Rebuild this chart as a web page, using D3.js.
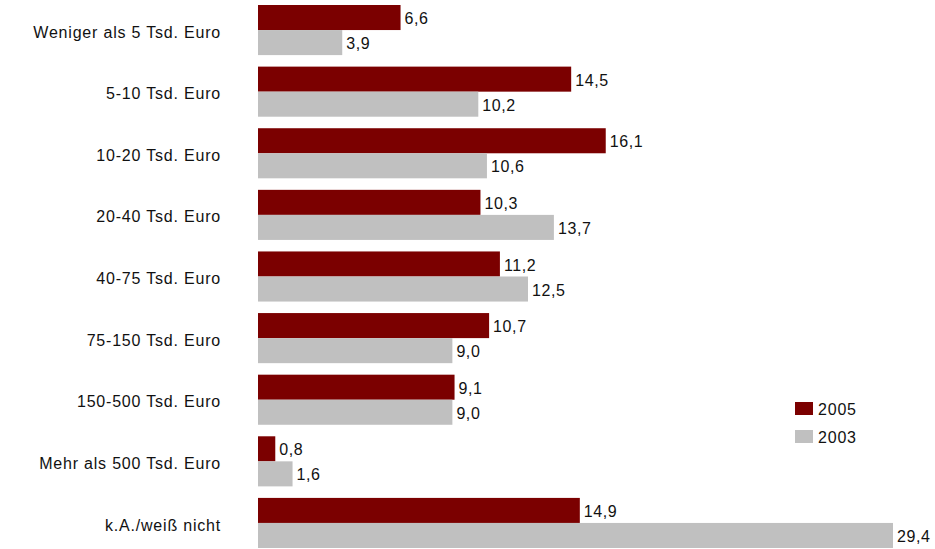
<!DOCTYPE html>
<meta charset="utf-8">
<script src="https://d3js.org/d3.v7.js"></script>
<style>
  body { margin: 0; background: #fff; }
  text { font-family: "Liberation Sans", Arial, sans-serif; fill: #111; }
</style>
<div id="chart"></div>
<script>
// categories and values
var categories = ["Weniger als 5 Tsd. Euro", "5-10 Tsd. Euro", "10-20 Tsd. Euro", "20-40 Tsd. Euro",
  "40-75 Tsd. Euro", "75-150 Tsd. Euro", "150-500 Tsd. Euro", "Mehr als 500 Tsd. Euro", "k.A./weiß nicht"];
var years = ["2005", "2003"];
var values2005 = [6.6, 14.5, 16.1, 10.3, 11.2, 10.7, 9.1, 0.8, 14.9];
var values2003 = [3.9, 10.2, 10.6, 13.7, 12.5, 9.0, 9.0, 1.6, 29.4];

var colors = { "2005": "#7b0000", "2003": "#c0c0c0" };

var width = 935, height = 549;

var svg = d3.select("#chart").append("svg")
  .attr("width", width)
  .attr("height", height);

var data = categories.map(function(c, i) {
  return { cat: c, vals: [{ year: "2005", v: values2005[i] }, { year: "2003", v: values2003[i] }] };
});

var x = d3.scaleLinear().domain([0, 29.4]).range([258, 893]);

var y = d3.scaleBand().domain(categories).range([5, 548]).paddingInner(0.187).paddingOuter(0);
var y1 = d3.scaleBand().domain(years).range([0, y.bandwidth()]);

var fmt = function(v) { return d3.format(".1f")(v).replace(".", ","); };

var groups = svg.selectAll(".grp")
  .data(data)
  .join("g")
    .attr("class", "grp")
    .attr("transform", function(d) { return "translate(0," + y(d.cat) + ")"; });

groups.selectAll("rect")
  .data(function(d) { return d.vals; })
  .join("rect")
    .attr("x", x(0))
    .attr("y", function(d) { return y1(d.year); })
    .attr("width", function(d) { return x(d.v) - x(0); })
    .attr("height", y1.bandwidth())
    .attr("fill", function(d) { return colors[d.year]; });

groups.selectAll(".val")
  .data(function(d) { return d.vals; })
  .join("text")
    .attr("class", "val")
    .attr("x", function(d) { return x(d.v) + 4; })
    .attr("y", function(d) { return y1(d.year) + y1.bandwidth() / 2 + 1; })
    .attr("dy", "0.35em")
    .attr("font-size", 16)
    .attr("letter-spacing", 0.6)
    .text(function(d) { return fmt(d.v); });

// category labels
svg.selectAll(".cat")
  .data(categories)
  .join("text")
    .attr("class", "cat")
    .attr("x", 221)
    .attr("y", function(d) { return y(d) + y.bandwidth() / 2 + 2; })
    .attr("dy", "0.35em")
    .attr("text-anchor", "end")
    .attr("font-size", 16)
    .attr("letter-spacing", 0.8)
    .text(function(d) { return d; });

// legend
var legend = svg.selectAll(".leg")
  .data(years)
  .join("g")
    .attr("class", "leg")
    .attr("transform", function(d, i) { return "translate(795," + (402 + i * 28) + ")"; });

legend.append("rect")
  .attr("width", 18)
  .attr("height", 13)
  .attr("fill", function(d) { return colors[d]; });

legend.append("text")
  .attr("x", 23)
  .attr("y", 7)
  .attr("dy", "0.35em")
  .attr("font-size", 16)
  .attr("letter-spacing", 0.8)
  .text(function(d) { return d; });
</script>
